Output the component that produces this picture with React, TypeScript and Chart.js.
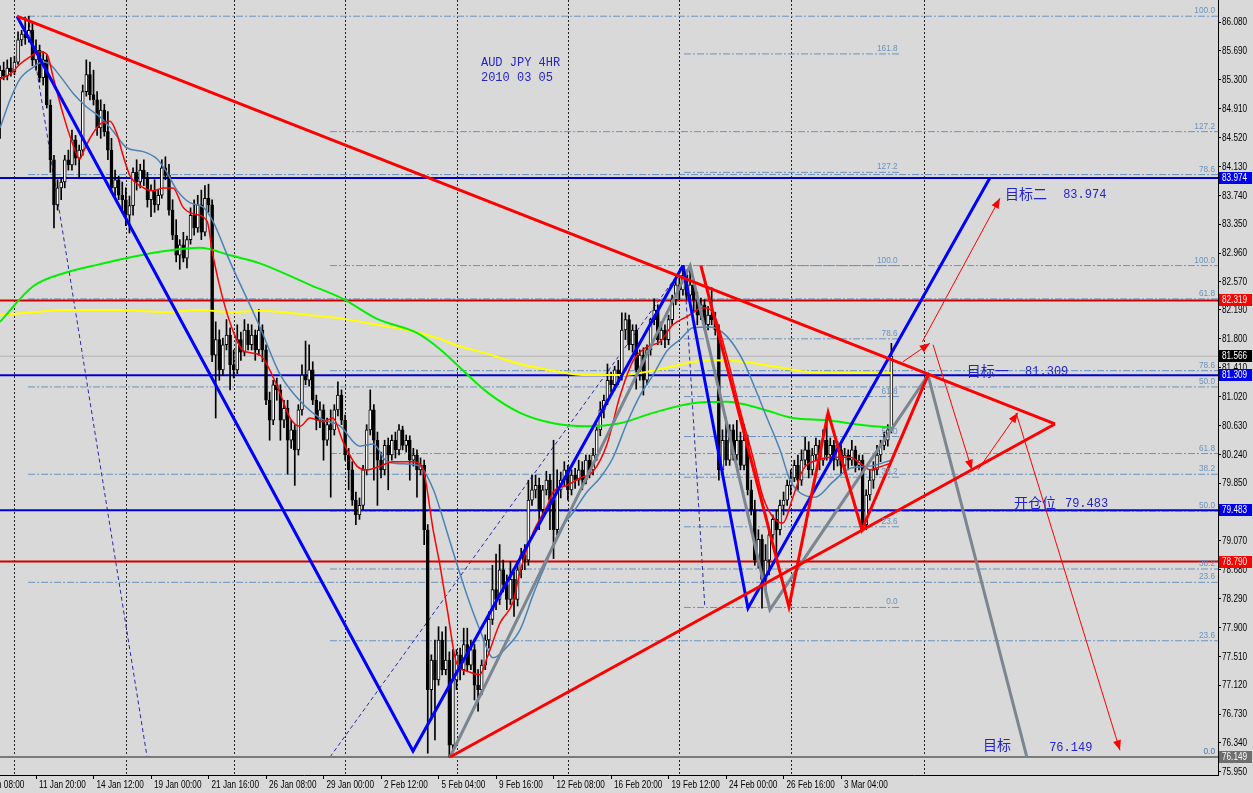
import React, { useEffect, useRef } from 'react';
import { Chart, registerables } from 'chart.js';

Chart.register(...registerables);

// ---------------- data ----------------
const FIRST_BAR = 6;

const opens = [
  85.33, 85.43, 85.35, 85.46, 85.41, 85.54, 85.84, 85.92, 85.87, 85.97,
  85.57, 85.70, 85.33, 85.57, 84.96, 84.22, 83.61, 83.84, 83.92, 84.22,
  84.15, 84.49, 84.24, 84.35, 85.14, 85.37, 85.10, 85.03, 84.65, 84.89,
  84.60, 84.35, 83.84, 83.95, 83.74, 83.68, 83.47, 83.60, 84.05, 83.92,
  84.08, 83.97, 83.68, 83.81, 83.61, 83.74, 84.11, 84.01, 83.54, 83.20,
  82.93, 83.07, 82.89, 83.14, 83.47, 83.30, 83.61, 83.24, 83.70, 83.61,
  81.58, 81.79, 81.38, 81.72, 81.85, 81.45, 81.38, 81.79, 81.62, 81.92,
  81.72, 81.85, 81.65, 81.92, 81.65, 80.97, 80.70, 81.18, 81.11, 80.70,
  80.86, 80.43, 80.57, 80.30, 80.84, 81.31, 81.24, 81.38, 80.97, 80.70,
  80.84, 80.43, 80.64, 80.57, 80.84, 81.04, 80.70, 80.23, 80.03, 79.62,
  79.42, 79.55, 80.03, 80.57, 80.84, 80.43, 80.16, 80.03, 80.36, 80.23,
  80.43, 80.30, 80.57, 80.36, 80.43, 80.16, 80.23, 80.03, 80.09, 79.22,
  77.06, 77.46, 77.19, 77.73, 77.33, 77.46, 76.31, 77.19, 77.53, 77.33,
  77.67, 77.39, 77.60, 77.12, 77.06, 77.39, 77.73, 78.01, 78.41, 78.28,
  78.68, 78.48, 78.28, 78.55, 78.28, 78.68, 78.88, 78.81, 79.62, 79.76,
  79.82, 79.49, 79.76, 79.89, 79.62, 79.22, 79.76, 79.89, 80.03, 79.76,
  79.96, 79.89, 80.03, 79.89, 80.16, 80.03, 80.23, 80.57, 80.84, 80.97,
  81.24, 81.18, 81.38, 81.31, 81.92, 82.06, 81.72, 81.92, 81.38, 81.58,
  81.24, 81.65, 82.06, 82.19, 81.79, 81.92, 81.79, 82.06, 82.33, 82.53,
  82.46, 82.66, 82.39, 82.53, 82.33, 82.12, 82.26, 81.99, 82.12, 82.06,
  81.92, 80.03, 80.43, 80.16, 80.57, 80.23, 80.43, 80.09, 80.43, 79.76,
  79.49, 78.81, 79.09, 78.55, 78.81, 79.15, 79.36, 79.22, 79.55, 79.62,
  79.82, 79.92, 80.09, 79.89, 80.16, 80.30, 80.03, 80.23, 80.36, 80.16,
  80.43, 80.23, 80.36, 80.16, 80.30, 80.09, 80.23, 80.16, 80.30, 80.09,
  80.16, 79.29, 79.69, 79.89, 80.03, 80.23, 80.36, 80.43, 80.57,
];

const highs = [
  85.49, 85.54, 85.57, 85.60, 85.62, 85.95, 85.97, 86.15, 86.16, 86.08,
  85.84, 85.77, 85.68, 85.64, 85.03, 84.28, 83.95, 83.97, 84.28, 84.35,
  84.62, 84.55, 84.42, 85.23, 85.57, 85.54, 85.43, 85.14, 85.03, 84.97,
  84.87, 84.51, 84.08, 84.00, 83.92, 83.84, 83.73, 84.11, 84.22, 84.16,
  84.22, 84.05, 83.88, 83.95, 83.81, 84.22, 84.26, 84.16, 83.68, 83.41,
  83.14, 83.24, 83.19, 83.57, 83.68, 83.74, 83.81, 83.87, 83.89, 83.68,
  82.03, 81.92, 81.81, 82.06, 81.95, 81.65, 81.99, 81.89, 82.06, 82.00,
  81.99, 81.92, 82.20, 81.99, 81.72, 81.08, 81.24, 81.27, 81.18, 80.97,
  80.97, 80.70, 80.64, 80.91, 81.45, 81.77, 81.72, 81.49, 81.04, 80.95,
  80.91, 80.73, 80.84, 80.91, 81.22, 81.11, 80.77, 80.32, 80.14, 79.73,
  79.65, 80.09, 80.64, 81.11, 80.91, 80.54, 80.27, 80.43, 80.46, 80.50,
  80.54, 80.64, 80.62, 80.50, 80.49, 80.32, 80.30, 80.19, 80.16, 79.29,
  77.53, 77.73, 77.91, 77.84, 77.91, 77.57, 77.60, 77.60, 77.62, 77.89,
  77.89, 77.73, 77.67, 77.33, 77.46, 77.80, 78.11, 78.74, 78.89, 79.02,
  78.81, 78.61, 78.79, 78.65, 78.79, 78.97, 79.02, 79.89, 79.96, 79.96,
  79.92, 79.82, 80.01, 79.97, 80.43, 80.03, 80.00, 80.14, 80.09, 80.03,
  80.05, 80.16, 80.14, 80.23, 80.23, 80.32, 80.64, 80.95, 81.04, 81.46,
  81.35, 81.43, 81.51, 82.15, 82.15, 82.12, 81.99, 81.99, 81.65, 81.68,
  81.72, 82.08, 82.34, 82.26, 82.03, 81.99, 82.12, 82.39, 82.60, 82.62,
  82.79, 82.73, 82.73, 82.60, 82.43, 82.35, 82.33, 82.24, 82.49, 82.16,
  81.99, 80.57, 80.74, 80.64, 80.64, 80.70, 80.54, 80.64, 80.50, 79.89,
  79.62, 79.22, 79.15, 79.02, 79.24, 79.42, 79.49, 79.62, 79.73, 79.89,
  80.03, 80.16, 80.23, 80.30, 80.47, 80.41, 80.32, 80.46, 80.43, 80.57,
  80.77, 80.46, 80.43, 80.41, 80.36, 80.32, 80.30, 80.43, 80.35, 80.23,
  80.23, 79.76, 80.03, 80.14, 80.36, 80.43, 80.54, 80.64, 81.74,
];

const lows = [
  84.51, 85.30, 85.30, 85.35, 85.37, 85.51, 85.76, 85.78, 85.81, 85.49,
  85.43, 85.27, 85.23, 84.92, 84.05, 83.30, 83.54, 83.68, 83.84, 84.08,
  84.08, 84.15, 83.98, 84.28, 85.08, 85.03, 84.96, 84.55, 84.51, 84.54,
  84.22, 83.78, 83.73, 83.68, 83.51, 83.33, 83.23, 83.47, 83.81, 83.84,
  83.87, 83.58, 83.45, 83.51, 83.54, 83.70, 83.95, 83.47, 83.14, 82.84,
  82.74, 82.84, 82.76, 83.08, 83.20, 83.24, 83.14, 83.19, 83.51, 81.49,
  80.73, 81.24, 81.31, 81.65, 81.11, 81.27, 81.33, 81.51, 81.57, 81.65,
  81.65, 81.51, 81.58, 81.49, 80.91, 80.43, 80.64, 80.97, 80.43, 80.60,
  79.97, 80.32, 79.82, 80.23, 80.77, 81.18, 81.16, 80.91, 80.57, 80.60,
  80.16, 80.36, 79.66, 80.50, 80.76, 80.64, 80.16, 79.76, 79.55, 79.29,
  79.36, 79.49, 79.96, 80.50, 79.89, 79.55, 79.92, 79.96, 79.76, 80.16,
  80.19, 80.23, 80.30, 80.27, 79.89, 80.08, 79.66, 79.96, 79.02, 76.20,
  76.65, 76.38, 77.12, 77.26, 77.26, 76.15, 76.24, 77.06, 77.19, 77.26,
  77.30, 77.33, 76.92, 76.77, 76.99, 77.33, 77.62, 77.94, 78.14, 78.21,
  78.38, 78.14, 78.21, 78.05, 78.19, 78.57, 78.68, 78.74, 79.55, 79.65,
  79.22, 79.42, 79.69, 79.22, 78.83, 79.15, 79.65, 79.81, 79.62, 79.69,
  79.78, 79.82, 79.76, 79.84, 79.92, 79.96, 80.16, 80.49, 80.73, 80.91,
  81.08, 81.11, 81.18, 81.24, 81.79, 81.65, 81.62, 81.12, 81.24, 81.04,
  81.18, 81.58, 81.99, 81.72, 81.72, 81.68, 81.72, 81.99, 82.26, 82.33,
  82.39, 82.33, 82.33, 82.16, 81.99, 82.06, 81.92, 81.92, 81.99, 81.85,
  79.89, 79.96, 80.09, 80.09, 80.16, 80.16, 80.03, 80.03, 79.69, 79.42,
  78.74, 78.70, 78.16, 78.41, 78.61, 79.09, 78.85, 79.15, 79.42, 79.55,
  79.69, 79.87, 79.76, 79.82, 80.09, 79.92, 79.96, 80.16, 80.03, 80.09,
  80.16, 80.14, 80.03, 80.08, 79.96, 80.03, 80.03, 80.09, 80.00, 80.03,
  79.20, 79.22, 79.62, 79.78, 79.96, 80.14, 80.30, 80.35, 80.53,
];

const closes = [
  85.43, 85.35, 85.46, 85.41, 85.54, 85.84, 85.92, 85.87, 85.97, 85.57,
  85.70, 85.33, 85.57, 84.96, 84.22, 83.61, 83.84, 83.92, 84.22, 84.15,
  84.49, 84.24, 84.35, 85.14, 85.37, 85.10, 85.03, 84.65, 84.89, 84.60,
  84.35, 83.84, 83.95, 83.74, 83.68, 83.47, 83.60, 84.05, 83.92, 84.08,
  83.97, 83.68, 83.81, 83.61, 83.74, 84.11, 84.01, 83.54, 83.20, 82.93,
  83.07, 82.89, 83.14, 83.47, 83.30, 83.61, 83.24, 83.70, 83.61, 81.58,
  81.79, 81.38, 81.72, 81.85, 81.45, 81.38, 81.79, 81.62, 81.92, 81.72,
  81.85, 81.65, 81.92, 81.65, 80.97, 80.70, 81.18, 81.11, 80.70, 80.86,
  80.43, 80.57, 80.30, 80.84, 81.31, 81.24, 81.38, 80.97, 80.70, 80.84,
  80.43, 80.64, 80.57, 80.84, 81.04, 80.70, 80.23, 80.03, 79.62, 79.42,
  79.55, 80.03, 80.57, 80.84, 80.43, 80.16, 80.03, 80.36, 80.23, 80.43,
  80.30, 80.57, 80.36, 80.43, 80.16, 80.23, 80.03, 80.09, 79.22, 77.06,
  77.46, 77.19, 77.73, 77.33, 77.46, 76.31, 77.19, 77.53, 77.33, 77.67,
  77.39, 77.60, 77.12, 77.06, 77.39, 77.73, 78.01, 78.41, 78.28, 78.68,
  78.48, 78.28, 78.55, 78.28, 78.68, 78.88, 78.81, 79.62, 79.76, 79.82,
  79.49, 79.76, 79.89, 79.62, 79.22, 79.76, 79.89, 80.03, 79.76, 79.96,
  79.89, 80.03, 79.89, 80.16, 80.03, 80.23, 80.57, 80.84, 80.97, 81.24,
  81.18, 81.38, 81.31, 81.92, 82.06, 81.72, 81.92, 81.38, 81.58, 81.24,
  81.65, 82.06, 82.19, 81.79, 81.92, 81.79, 82.06, 82.33, 82.53, 82.46,
  82.66, 82.39, 82.53, 82.33, 82.12, 82.26, 81.99, 82.12, 82.06, 81.92,
  80.03, 80.43, 80.16, 80.57, 80.23, 80.43, 80.09, 80.43, 79.76, 79.49,
  78.81, 79.09, 78.55, 78.81, 79.15, 79.36, 79.22, 79.55, 79.62, 79.82,
  79.92, 80.09, 79.89, 80.16, 80.30, 80.03, 80.23, 80.36, 80.16, 80.43,
  80.23, 80.36, 80.16, 80.30, 80.09, 80.23, 80.16, 80.30, 80.09, 80.16,
  79.29, 79.69, 79.89, 80.03, 80.23, 80.36, 80.43, 80.57, 81.566,
];

// axis ticks
const xTickBars = [0, 16, 32, 48, 64, 80, 96, 112, 128, 144, 160, 176, 192, 208, 224, 240];
const xTickLabels = [
  '7 Jan 08:00', '11 Jan 20:00', '14 Jan 12:00', '19 Jan 00:00', '21 Jan 16:00', '26 Jan 08:00',
  '29 Jan 00:00', '2 Feb 12:00', '5 Feb 04:00', '9 Feb 16:00', '12 Feb 08:00', '16 Feb 20:00',
  '19 Feb 12:00', '24 Feb 00:00', '26 Feb 16:00', '3 Mar 04:00',
];
const yTickValues = [
  86.08, 85.69, 85.30, 84.91, 84.52, 84.13, 83.74, 83.35, 82.96, 82.57, 82.19, 81.80, 81.41, 81.02,
  80.63, 80.24, 79.85, 79.46, 79.07, 78.68, 78.29, 77.90, 77.51, 77.12, 76.73, 76.34, 75.95,
];
const weekSeparatorBars = [10, 41, 71, 102, 133, 164, 195, 226, 263];
const X_MIN = 5.98;
const X_MAX = 344.88;
const Y_MIN = 75.906;
const Y_MAX = 86.379;

// horizontal levels
const levelPrices = [83.974, 82.319, 81.309, 79.483, 78.79, 76.149];
const currentPrice = 81.566;

// moving averages [bar, price]
const maFast = [
  [6.0, 85.31], [8.8, 85.38], [11.5, 85.51], [14.3, 85.61], [17.1, 85.68], [19.1, 85.64], [20.7, 85.35],
  [23.5, 84.84], [26.3, 84.42], [28.2, 84.23], [29.1, 84.32], [31.0, 84.51], [33.8, 84.70], [36.6, 84.74],
  [38.5, 84.57], [40.2, 84.28], [42.2, 84.0], [44.9, 83.87], [48.6, 83.80], [51.3, 83.84], [54.1, 83.84],
  [56.9, 83.58], [59.7, 83.49], [63.6, 83.39], [65.2, 82.93], [68.0, 82.34], [70.8, 81.91], [73.6, 81.64],
  [78.3, 81.58], [83.1, 81.16], [86.7, 80.73], [89.5, 80.62], [92.2, 80.73], [95.9, 80.68], [98.6, 80.73],
  [101.4, 80.41], [105.3, 80.08], [108.1, 80.03], [111.7, 80.08], [115.3, 80.14], [120.9, 80.14],
  [123.7, 80.03], [126.5, 79.22], [128.4, 78.74], [130.4, 78.15], [133.1, 77.41], [135.9, 77.31],
  [139.5, 77.26], [141.5, 77.49], [145.1, 77.96], [148.7, 78.24], [150.7, 78.66], [154.3, 79.18],
  [158.2, 79.54], [159.9, 79.73], [163.7, 79.82], [167.4, 79.92], [171.0, 80.01], [174.9, 80.38],
  [178.5, 81.03], [182.1, 81.50], [186.0, 81.69], [189.6, 81.76], [193.2, 81.99], [197.1, 82.10],
  [201.6, 82.22], [204.4, 82.15], [208.3, 81.55], [211.9, 80.84], [215.5, 80.20], [218.3, 79.66],
  [221.1, 79.39], [223.8, 79.31], [226.6, 79.66], [229.4, 80.03], [233.3, 80.16], [237.8, 80.20],
  [242.5, 80.20], [245.3, 80.12], [248.1, 80.03], [250.8, 80.07], [253.9, 80.12],
];
const maMid = [
  [6.0, 84.65], [8.8, 85.03], [11.5, 85.31], [15.2, 85.47], [17.9, 85.54], [19.9, 85.51], [22.7, 85.35],
  [26.3, 85.12], [30.2, 84.93], [33.8, 84.80], [37.4, 84.61], [41.3, 84.38], [45.8, 84.33], [49.7, 84.23],
  [52.4, 84.05], [55.2, 83.81], [58.8, 83.64], [62.5, 83.58], [65.2, 83.39], [70.0, 82.84], [78.3, 81.96],
  [83.9, 81.32], [89.5, 80.96], [95.0, 80.73], [100.6, 80.62], [106.1, 80.35], [109.8, 80.38],
  [113.7, 80.14], [119.2, 80.11], [122.8, 80.08], [126.5, 79.77], [128.4, 79.50], [132.0, 78.93],
  [135.9, 78.34], [139.5, 77.87], [143.2, 77.49], [147.1, 77.64], [150.7, 77.87], [154.3, 78.34],
  [158.2, 78.80], [161.8, 79.22], [165.4, 79.45], [169.3, 79.73], [172.9, 79.92], [176.5, 80.19],
  [180.4, 80.66], [184.0, 81.03], [187.7, 81.31], [191.6, 81.64], [195.2, 81.79], [198.8, 81.95],
  [203.5, 81.96], [208.3, 81.83], [212.7, 81.51], [215.5, 81.20], [219.4, 80.73], [223.0, 80.30],
  [225.8, 79.89], [228.6, 79.72], [232.7, 79.66], [237.8, 79.87], [242.5, 80.05], [248.1, 80.08],
  [253.9, 80.16],
];
const maSlow = [
  [6.0, 82.03], [15.2, 82.51], [24.6, 82.70], [33.8, 82.81], [43.0, 82.91], [52.4, 82.99], [61.6, 83.03],
  [70.0, 82.93], [78.3, 82.82], [92.2, 82.53], [101.4, 82.34], [110.9, 82.07], [122.0, 81.88],
  [128.4, 81.66], [134.0, 81.41], [141.5, 81.08], [150.7, 80.80], [159.9, 80.66], [169.3, 80.62],
  [178.5, 80.66], [187.7, 80.80], [198.8, 80.93], [208.3, 80.95], [217.4, 80.86], [226.6, 80.73],
  [236.1, 80.70], [245.3, 80.64], [253.9, 80.60],
];
const maLong = [
  [6.0, 82.12], [15.2, 82.16], [24.6, 82.19], [38.5, 82.19], [52.4, 82.16], [61.6, 82.19], [70.0, 82.16],
  [78.3, 82.18], [92.2, 82.12], [101.4, 82.07], [110.9, 81.99], [120.1, 81.91], [128.4, 81.80],
  [132.0, 81.73], [141.5, 81.60], [150.7, 81.46], [159.9, 81.37], [169.3, 81.31], [178.5, 81.31],
  [187.7, 81.37], [197.1, 81.47], [203.5, 81.51], [212.7, 81.49], [222.2, 81.42], [231.4, 81.35],
  [240.5, 81.34], [253.9, 81.34],
];

// drawn objects [bar, price]
const redTriangleTop = [[10.7, 86.16], [299.5, 80.65]];
const redTriangleBottom = [[131.2, 76.149], [299.5, 80.65]];
const blueWaveA = [[10.7, 86.16], [120.9, 76.23], [196.0, 82.79]];
const blueWaveB = [[196.0, 82.79], [214.1, 78.16], [281.4, 83.974]];
const grayWave = [[131.2, 76.149], [198.0, 82.79], [220.2, 78.14], [264.2, 81.309], [291.7, 76.149]];
const redZigzag = [[201.0, 82.79], [225.5, 78.18], [236.4, 80.80], [245.8, 79.22], [264.2, 81.309]];
const arrowSegments = [
  [[262.6, 81.76], [284.2, 83.70]],
  [[257.2, 81.49], [264.7, 81.74]],
  [[265.6, 81.72], [276.4, 80.03]],
  [[278.1, 80.03], [289.2, 80.80]],
  [[288.7, 80.80], [317.6, 76.24]],
];

// fibonacci tools
const fibAnchorA = [[13.8, 86.16], [46.9, 76.149]];
const fibAnchorB = [[97.8, 76.149], [196.3, 82.79]];
const fibAnchorC = [[196.3, 82.79], [202.1, 78.17]];
const fibRangeA = [13.8, X_MAX];
const fibRangeB = [97.8, X_MAX];
const fibRangeC = [196.3, 256.6];
const fibLevelsA = [['100.0', 86.16], ['78.6', 84.02], ['61.8', 82.34], ['50.0', 81.15], ['38.2', 79.97], ['23.6', 78.51], ['0.0', 76.149]];
const fibLevelsB = [['127.2', 84.60], ['100.0', 82.79], ['78.6', 81.37], ['61.8', 80.25], ['50.0', 79.47], ['38.2', 78.69], ['23.6', 77.72], ['0.0', 76.149]];
const fibLevelsC = [['161.8', 85.65], ['127.2', 84.05], ['100.0', 82.79], ['78.6', 81.80], ['61.8', 81.02], ['50.0', 80.48], ['38.2', 79.93], ['23.6', 79.26], ['0.0', 78.17]];

// text notes [text, bar, price, kind]
const notes = [
  ['AUD JPY 4HR', 139.8, 85.53, 'latin'],
  ['2010 03 05', 139.8, 85.33, 'latin'],
  ['目标二', 285.6, 83.76, 'cjk'],
  ['83.974', 301.8, 83.74, 'latin'],
  ['目标一', 275.0, 81.37, 'cjk'],
  ['81.309', 291.2, 81.36, 'latin'],
  ['开仓位', 288.1, 79.58, 'cjk'],
  ['79.483', 302.3, 79.57, 'latin'],
  ['目标', 279.5, 76.31, 'cjk'],
  ['76.149', 297.9, 76.27, 'latin'],
];

// ---------------- styles ----------------
const BG = '#d9d9d9';
const AXIS_FONT = '10px "Liberation Sans", Arial, sans-serif';
const AXIS_SQUEEZE = 0.82;
const LEVEL_LINE_COLORS = ['#0000c8', '#d00000', '#0000c8', '#0000e0', '#d00000', '#7a7a7a'];
const LEVEL_BOX_COLORS = ['#0000f0', '#ff0000', '#0000f0', '#0000f0', '#ff0000', '#6e6e6e'];
const FIB_COLOR = '#6b93bd';
const NOTE_COLOR = '#2424c8';
const VALUE_AXIS_WIDTH = 35;
const TIME_AXIS_HEIGHT = 18;

const pts = (arr: any[]) => arr.map((p: any) => ({ x: p[0], y: p[1] }));
const lineDs = (data: any[], color: string, width: number, order: number, extra: any = {}) => ({
  type: 'line',
  data,
  borderColor: color,
  borderWidth: width,
  pointRadius: 0,
  fill: false,
  tension: 0,
  order,
  ...extra,
});

function squeezedText(ctx: any, text: string, x: number, y: number, squeeze: number) {
  ctx.save();
  ctx.translate(x, y);
  ctx.scale(squeeze, 1);
  ctx.fillText(text, 0, 0);
  ctx.restore();
}

function buildDatasets() {
  const ds: any[] = [];
  const bars = opens.map((_, k) => FIRST_BAR + k);

  const fibSets: any[] = [
    [fibRangeA, fibLevelsA],
    [fibRangeB, fibLevelsB],
    [fibRangeC, fibLevelsC],
  ];
  fibSets.forEach(([range, levels]) => {
    levels.forEach((lv: any) => {
      ds.push(lineDs([{ x: range[0], y: lv[1] }, { x: range[1], y: lv[1] }], FIB_COLOR, 1, 95, { borderDash: [7, 2, 2, 2] }));
    });
  });
  [fibAnchorA, fibAnchorB, fibAnchorC].forEach((a) => {
    ds.push(lineDs(pts(a), '#2a2aa8', 1, 94, { borderDash: [4, 3] }));
  });

  levelPrices.forEach((p, k) => {
    ds.push(lineDs([{ x: X_MIN, y: p }, { x: X_MAX, y: p }], LEVEL_LINE_COLORS[k], 2, 90));
  });
  ds.push(lineDs([{ x: X_MIN, y: currentPrice }, { x: X_MAX, y: currentPrice }], '#b2b2b2', 1, 91));

  ds.push({
    type: 'bar',
    data: bars.map((b, k) => ({ x: b, y: [lows[k], highs[k]] })),
    backgroundColor: '#000000',
    borderWidth: 0,
    barThickness: 1,
    grouped: false,
    order: 80,
  });
  ds.push({
    type: 'bar',
    data: bars.map((b, k) => ({ x: b, y: [opens[k], closes[k]] })),
    backgroundColor: bars.map((_, k) => (closes[k] >= opens[k] ? '#ffffff' : '#000000')),
    borderColor: '#000000',
    borderWidth: 1,
    borderSkipped: false,
    barThickness: 3,
    grouped: false,
    order: 79,
  });

  const smooth = { cubicInterpolationMode: 'monotone' };
  ds.push(lineDs(pts(maLong), '#ffff00', 2, 53, smooth));
  ds.push(lineDs(pts(maSlow), '#00f000', 2, 52, smooth));
  ds.push(lineDs(pts(maMid), '#4a83b5', 1.5, 51, smooth));
  ds.push(lineDs(pts(maFast), '#ff0000', 1.5, 50, smooth));

  ds.push(lineDs(pts(grayWave), '#7c8690', 3, 14));
  ds.push(lineDs(pts(blueWaveA), '#0000ff', 3, 13));
  ds.push(lineDs(pts(blueWaveB), '#0000ff', 3, 13));
  ds.push(lineDs(pts(redTriangleTop), '#ff0000', 3, 12));
  ds.push(lineDs(pts(redTriangleBottom), '#ff0000', 3, 12));
  ds.push(lineDs(pts(redZigzag), '#ff0000', 3, 11));
  arrowSegments.forEach((s) => ds.push(lineDs(pts(s), '#ff0000', 1, 5)));
  return ds;
}

const overlayPlugin = {
  id: 'overlay',
  beforeDraw(chart: any) {
    const { ctx, width, height } = chart;
    ctx.save();
    ctx.fillStyle = BG;
    ctx.fillRect(0, 0, width, height);
    ctx.restore();
  },
  beforeDatasetsDraw(chart: any) {
    const { ctx, chartArea: a, scales } = chart;
    const x = scales.x;
    ctx.save();
    ctx.strokeStyle = '#222';
    ctx.lineWidth = 1;
    ctx.setLineDash([2, 2]);
    ctx.beginPath();
    weekSeparatorBars.forEach((b) => {
      const px = Math.round(x.getPixelForValue(b)) + 0.5;
      ctx.moveTo(px, a.top);
      ctx.lineTo(px, a.bottom);
    });
    ctx.stroke();
    ctx.restore();
  },
  afterDatasetsDraw(chart: any) {
    const { ctx, scales } = chart;
    const x = scales.x;
    const y = scales.y;
    ctx.save();
    ctx.font = '9px "Liberation Sans", Arial, sans-serif';
    ctx.fillStyle = FIB_COLOR;
    ctx.textAlign = 'right';
    ctx.textBaseline = 'bottom';
    const sets: any[] = [[fibRangeA, fibLevelsA], [fibRangeB, fibLevelsB], [fibRangeC, fibLevelsC]];
    sets.forEach(([range, levels]) => {
      const xe = x.getPixelForValue(range[1]) - 3;
      levels.forEach((lv: any) => squeezedText(ctx, lv[0], xe, y.getPixelForValue(lv[1]) - 1, 0.92));
    });
    ctx.fillStyle = '#ff0000';
    arrowSegments.forEach((s) => {
      const x1 = x.getPixelForValue(s[0][0]);
      const y1 = y.getPixelForValue(s[0][1]);
      const x2 = x.getPixelForValue(s[1][0]);
      const y2 = y.getPixelForValue(s[1][1]);
      const ang = Math.atan2(y2 - y1, x2 - x1);
      const len = 10;
      const hw = 4;
      ctx.beginPath();
      ctx.moveTo(x2, y2);
      ctx.lineTo(x2 - len * Math.cos(ang) + hw * Math.sin(ang), y2 - len * Math.sin(ang) - hw * Math.cos(ang));
      ctx.lineTo(x2 - len * Math.cos(ang) - hw * Math.sin(ang), y2 - len * Math.sin(ang) + hw * Math.cos(ang));
      ctx.closePath();
      ctx.fill();
    });
    ctx.fillStyle = NOTE_COLOR;
    ctx.textAlign = 'left';
    ctx.textBaseline = 'middle';
    notes.forEach((n: any) => {
      ctx.font = n[3] === 'cjk' ? '14px "Noto Sans CJK SC"' : '12px "Liberation Mono", monospace';
      ctx.fillText(n[0], x.getPixelForValue(n[1]), y.getPixelForValue(n[2]));
    });
    ctx.restore();
  },
  afterDraw(chart: any) {
    const { ctx, chartArea: a, scales } = chart;
    const x = scales.x;
    const y = scales.y;
    ctx.save();
    ctx.font = AXIS_FONT;
    ctx.fillStyle = '#000000';
    ctx.textAlign = 'left';
    ctx.textBaseline = 'middle';
    // time axis labels, start-aligned next to their tick
    xTickBars.forEach((b, k) => {
      squeezedText(ctx, xTickLabels[k], x.getPixelForValue(b) + 3, a.bottom + 10, AXIS_SQUEEZE);
    });
    // value axis labels
    yTickValues.forEach((v) => {
      squeezedText(ctx, v.toFixed(3), a.right + 4, y.getPixelForValue(v) + 0.5, AXIS_SQUEEZE);
    });
    // price boxes on the value axis
    const boxes: any[] = levelPrices.map((p, k) => [p, LEVEL_BOX_COLORS[k]]);
    boxes.push([currentPrice, '#000000']);
    boxes.forEach(([p, c]) => {
      const py = Math.round(y.getPixelForValue(p));
      ctx.fillStyle = c;
      ctx.fillRect(a.right + 1, py - 6, 33, 12);
      ctx.fillStyle = '#ffffff';
      squeezedText(ctx, p.toFixed(3), a.right + 4, py + 0.5, AXIS_SQUEEZE);
    });
    ctx.restore();
  },
};

export default function App() {
  const ref = useRef<HTMLCanvasElement | null>(null);
  useEffect(() => {
    document.body.style.margin = '0';
    const chart = new Chart(ref.current as HTMLCanvasElement, {
      type: 'line',
      data: { datasets: buildDatasets() } as any,
      options: {
        animation: false,
        responsive: false,
        events: [],
        layout: { padding: 0, autoPadding: false },
        elements: { point: { radius: 0 } },
        plugins: { legend: { display: false }, tooltip: { enabled: false }, title: { display: false } },
        scales: {
          x: {
            type: 'linear',
            min: X_MIN,
            max: X_MAX,
            offset: false,
            bounds: 'data',
            position: 'bottom',
            grid: { display: true, offset: false, drawOnChartArea: false, drawTicks: true, tickLength: 4, color: '#000' },
            border: { display: true, color: '#000', width: 1 },
            ticks: { display: false, autoSkip: false },
            afterBuildTicks: (s: any) => {
              s.ticks = xTickBars.map((v) => ({ value: v }));
            },
            afterFit: (s: any) => {
              s.height = TIME_AXIS_HEIGHT;
              s.paddingLeft = 0;
              s.paddingRight = 0;
            },
          },
          y: {
            type: 'linear',
            position: 'right',
            min: Y_MIN,
            max: Y_MAX,
            offset: false,
            beginAtZero: false,
            grid: { display: true, drawOnChartArea: false, drawTicks: true, tickLength: 3, color: '#000' },
            border: { display: true, color: '#000', width: 1 },
            ticks: { display: false, autoSkip: false },
            afterBuildTicks: (s: any) => {
              s.ticks = yTickValues.map((v) => ({ value: v }));
            },
            afterFit: (s: any) => {
              s.width = VALUE_AXIS_WIDTH;
              s.paddingTop = 0;
              s.paddingBottom = 0;
            },
          },
        },
      } as any,
      plugins: [overlayPlugin],
    });
    return () => chart.destroy();
  }, []);
  return (
    <div style={{ position: 'fixed', left: 0, top: 0, width: 1253, height: 793, background: BG }}>
      <canvas ref={ref} width={1253} height={793} style={{ display: 'block', width: 1253, height: 793 }} />
    </div>
  );
}
